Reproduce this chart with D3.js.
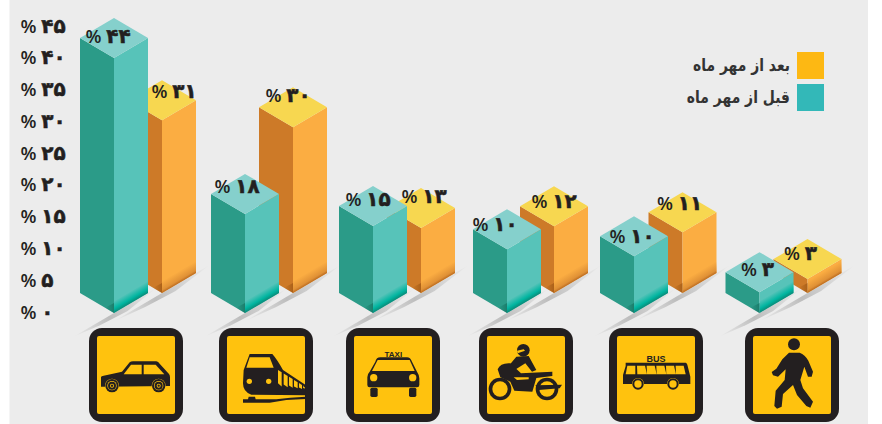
<!DOCTYPE html>
<html><head><meta charset="utf-8">
<script src="https://cdn.jsdelivr.net/npm/d3@7/dist/d3.min.js"></script>
<style>html,body{margin:0;padding:0;background:#fff}svg{display:block}</style>
</head><body><svg id="c" width="882" height="424"></svg>
<script>
// ---- data ----
const categories = ["car","train","taxi","motorcycle","bus","walking"];
const beforeLabels = [44,18,15,10,10,3];
const afterLabels  = [31,30,13,12,11,3];
// drawn bar heights (they differ a little from the printed labels)
const beforeLevels = [44,17.1,15,11,9.8,3.6];
const afterLevels  = [29.8,28.6,11.2,11.5,10.5,2.4];
const axisTicks = [0,5,10,15,20,25,30,35,40,45];
const legendLabels = ["بعد از مهر ماه","قبل از مهر ماه"];

// ---- layout ----
const svg = d3.select("#c");
const fa = n => String(n).replace(/\d/g, d => "۰۱۲۳۴۵۶۷۸۹"[+d]);
const FONT = "'DejaVu Sans'";
const hw = 34, dep = 20;
const yAxis = d3.scaleLinear().domain([0,45]).range([312,26]);
const h = d3.scaleLinear().domain([0,44]).range([0,255]);
const xBefore = d3.scaleOrdinal(categories,[114,245,373,507,634,759.5]);
const xAfter  = d3.scaleOrdinal(categories,[162,293,421,554,682.5,807.5]);
const xIcon   = d3.scaleOrdinal(categories,[89,219,346,479,609,745]);
const beforeBase = 313, afterBase = 293;
const beforeLabelDx = [-6,-8,-5,-12,-2,-2], beforeLabelDy = [-15,-21,-20,-18,-13,-16];
const afterLabelDx  = [12,-5,3,0,-3,-7],   afterLabelDy  = [-22,-25,-25,-18,-22,-19];
const tealCols = {left:"#2b9b88",right:"#57c3b9",top:"#85d0cc"};
const orangeCols = {left:"#cd7a28",right:"#fbad42",top:"#f7d750"};

svg.append("rect").attr("x",9.5).attr("y",0).attr("width",858.5).attr("height",424).attr("fill","#ececec");

const defs = svg.append("defs");
function grad(id,stops,vert){
  const g = defs.append("linearGradient").attr("id",id);
  if(vert) g.attr("x1",0).attr("y1",0).attr("x2",0).attr("y2",1);
  stops.forEach(s=>g.append("stop").attr("offset",s[0]).attr("stop-color",s[1]).attr("stop-opacity",s[2]));
}
grad("bandTeal",[[0,"#00b5a0",0],[.65,"#00b5a0",1],[1,"#0b8a78",1]],true);
grad("bandOrange",[[0,"#d98a33",0],[.75,"#d98a33",.8],[1,"#b9691f",1]],true);
grad("bandTealL",[[0,"#14705f",0],[1,"#14705f",.7]],false);
grad("bandOrangeL",[[0,"#94500f",0],[1,"#94500f",.6]],false);

// shadows
const shadows = svg.append("g");
function shadow(cx,b,reach,up){
  const sx=hw/dep;
  const ax=cx-reach, ay=b+reach/sx, bx=cx+hw+up, by=b-dep-up/sx;
  const id="s"+Math.round(cx);
  defs.append("linearGradient").attr("id",id).attr("gradientUnits","userSpaceOnUse")
    .attr("x1",ax).attr("y1",ay).attr("x2",bx).attr("y2",by)
    .call(g=>[[0,.0],[(reach*.85)/(reach+hw+up),.5],[(reach+hw*.5)/(reach+hw+up),.28],[1,0]]
      .forEach(s=>g.append("stop").attr("offset",s[0]).attr("stop-color","#8f8f8f").attr("stop-opacity",s[1])));
  shadows.append("path").attr("fill",`url(#${id})`)
    .attr("d",`M${ax},${ay} L${cx},${b} L${bx},${by} L${cx+hw*.4},${b-dep*.4+6} L${cx-reach*.35},${b+reach*.35/sx+4} Z`);
}
categories.forEach(c=>{ shadow(xAfter(c),afterBase,48,14); shadow(xBefore(c),beforeBase,40,8); });

// bars
const bars = svg.append("g");
function bar(cx,b,val,col,band,bandL){
  const H=h(val), t=b-H;
  const g=bars.append("g");
  g.append("path").attr("fill",col.left).attr("d",`M${cx-hw},${b-dep} L${cx},${b} L${cx},${t} L${cx-hw},${t-dep} Z`);
  g.append("path").attr("fill",col.right).attr("d",`M${cx+hw},${b-dep} L${cx},${b} L${cx},${t} L${cx+hw},${t-dep} Z`);
  g.append("path").attr("fill",col.top).attr("d",`M${cx},${t} L${cx+hw},${t-dep} L${cx},${t-2*dep} L${cx-hw},${t-dep} Z`);
  const bh=Math.min(12,H);
  const sk=Math.atan2(dep,hw)*180/Math.PI;
  g.append("rect").attr("x",0).attr("y",-bh).attr("width",hw).attr("height",bh).attr("fill",`url(#${band})`)
    .attr("transform",`translate(${cx},${b}) skewY(${-sk})`);
  g.append("path").attr("fill",`url(#${bandL})`)
    .attr("d",`M${cx-9},${b-5.3} L${cx},${b} L${cx},${b-10} Z`);
}
categories.forEach((c,i)=>{
  bar(xAfter(c),afterBase,afterLevels[i],orangeCols,"bandOrange","bandOrangeL");
  bar(xBefore(c),beforeBase,beforeLevels[i],tealCols,"bandTeal","bandTealL");
});

// percent label helper
function pct(sel,n){
  sel.append("tspan").attr("font-family","'Open Sans'").attr("font-weight",600).attr("font-size",18.5).text("% ");
  sel.append("tspan").attr("font-family",FONT).attr("font-weight",700).attr("font-size",20)
     .attr("stroke","#231f20").attr("stroke-width",.5).text(fa(n));
}
// axis
const axis = svg.append("g").attr("transform","translate(20.5,0)")
  .call(d3.axisRight(yAxis).tickValues(axisTicks).tickSize(0).tickFormat(""));
axis.select(".domain").remove();
axis.selectAll(".tick").each(function(d){
  const t=d3.select(this).select("text").attr("x",0).attr("dy",6).attr("text-anchor","start").attr("fill","#231f20");
  pct(t,d);
});
// value labels
const labels = svg.append("g").attr("fill","#231f20").attr("text-anchor","middle");
categories.forEach((c,i)=>{
  let t=labels.append("text").attr("x",xAfter(c)+afterLabelDx[i]).attr("y",afterBase-h(afterLevels[i])+afterLabelDy[i]);
  pct(t,afterLabels[i]);
  t=labels.append("text").attr("x",xBefore(c)+beforeLabelDx[i]).attr("y",beforeBase-h(beforeLevels[i])+beforeLabelDy[i]);
  pct(t,beforeLabels[i]);
});

// legend
const legendCols=["#fdb813","#33b8b8"];
legendLabels.forEach((l,i)=>{
  svg.append("rect").attr("x",797).attr("y",52+32*i).attr("width",27).attr("height",27).attr("fill",legendCols[i]);
  svg.append("text").attr("transform",`translate(790,${71+32*i}) scale(.82,1)`).attr("text-anchor","end")
    .attr("font-family",FONT).attr("font-weight",700).attr("font-size",17)
    .attr("fill","#333").text(l);
});

// icons: shapes are authored in a 3x grid relative to each box
const K="#231f20", Y="#ffc20e";
const iconOrigin = {car:56,train:448,taxi:827,motorcycle:56,bus:448,walking:856};
function draw(g,c){
  const p=(d,f=K)=>g.append("path").attr("d",d).attr("fill",f);
  const cc=(x,y,r,f=K)=>g.append("circle").attr("cx",x).attr("cy",y).attr("r",r).attr("fill",f);
  if(c==="car"){
    p("M92,172 Q92,168 100,167 L155,155 L178,127 Q182,124 188,124 L258,124 Q264,125 268,131 L296,162 Q299,166 299,172 L299,198 L92,200 Z");
    p("M160,163 L182,134 L214,134 L214,163 Z",Y); p("M220,134 L256,134 L282,163 L220,163 Z",Y);
    [125,265].forEach(x=>{cc(x,197,21,Y);cc(x,197,20);cc(x,197,14,Y);cc(x,197,12);cc(x,197,6,Y);cc(x,197,3.5);});
  } else if(c==="train"){
    p("M540,102 L608,102 Q622,118 640,150 L708,195 L708,226 L545,224 Q520,216 520,190 L522,150 Z");
    p("M530,143 L540,112 L600,112 L612,143 Z",Y);
    cc(539,184,8,Y);cc(597,184,8,Y);
    [[625,636],[642,654],[658,669],[673,684],[688,697],[700,706]].forEach((s,i)=>{
      const a=s[0],b=s[1],t=150+(a-625)*.62,u=150+(b-625)*.62;
      p(`M${a},${t} L${b},${u} L${b},${205} L${a},${196} Z`.replace("205",String(Math.min(208,198+(b-625)*.12))).replace("196",String(Math.min(208,190+(a-625)*.2))),Y);
    });
    p("M520,238 L535,238 L537,230 L556,230 L558,238 L620,238 Q660,232 708,230 L708,237 L650,240 L600,248 L520,248 Z");
  } else if(c==="taxi"){
    p("M915,125 Q918,112 930,112 L1010,112 Q1020,112 1025,125 L1040,155 Q1047,165 1047,175 L1047,195 Q1047,202 1040,202 L898,202 Q891,202 891,195 L891,172 Q892,160 898,155 Z");
    p("M905,153 L922,120 L1018,120 L1033,153 Z",Y);
    cc(910,173,11,Y);cc(1027,173,11,Y);
    g.append("rect").attr("x",900).attr("y",203).attr("width",22).attr("height",28).attr("rx",5).attr("fill",K);
    g.append("rect").attr("x",1016).attr("y",203).attr("width",22).attr("height",28).attr("rx",5).attr("fill",K);
    g.append("text").attr("x",969).attr("y",111).attr("text-anchor","middle").attr("font-family","'Liberation Sans Narrow','Liberation Sans'").attr("font-weight",700).attr("font-size",24).attr("fill",K).text("TAXI");
  } else if(c==="motorcycle"){
    [[119,207],[260,207]].forEach(q=>{cc(q[0],q[1],34);cc(q[0],q[1],23,Y);});
    cc(189,91,19);
    p("M170,92 L190,88 L194,92 L172,100 Z",Y);
    p("M168,110 L205,108 L228,150 L215,155 L195,130 L150,158 L135,150 Z");
    p("M112,148 Q120,128 150,130 L182,160 L276,155 L276,168 L228,174 L216,215 L162,212 L150,185 L120,172 Z");
    p("M225,196 L305,194 L298,205 L235,210 Z");
    p("M160,172 L205,172 L205,178 L170,180 Z",Y);
  } else if(c==="bus"){
    p("M498,128 L678,128 Q682,129 683,134 L692,170 L692,192 L490,192 L490,165 L498,138 Z");
    [0,1,2,3,4,5].forEach(i=>{const x=503+i*29; p(`M${x},137 L${x+24},137 L${x+30-(i<1?6:0)},163 L${x-5+(i>0?6:0)},163 Z`,Y);});
    [535,640].forEach(x=>{cc(x,192,18,Y);cc(x,192,17);cc(x,192,11,Y);});
    g.append("text").attr("x",589).attr("y",126).attr("text-anchor","middle").attr("font-family","'Liberation Sans Narrow','Liberation Sans'").attr("font-weight",700).attr("font-size",27).attr("fill",K).text("BUS");
  } else {
    cc(1003,73,18);
    p("M988,98 L1020,98 Q1036,104 1046,122 L1060,155 L1056,170 L1045,170 L1034,140 L1022,180 L1030,205 L1060,245 L1052,263 L1040,258 L1012,225 L1000,195 L970,222 L966,260 L952,266 L944,258 L948,212 L975,180 L978,148 L955,170 L940,166 L936,156 L950,146 L968,118 Z");
  }
}
categories.forEach(c=>{
  const x=xIcon(c), box=svg.append("g").attr("transform",`translate(${x},328)`);
  box.append("rect").attr("width",94).attr("height",94).attr("rx",13).attr("fill",K);
  box.append("rect").attr("x",8).attr("y",8).attr("width",78).attr("height",78).attr("rx",2).attr("fill",Y);
  const g=box.append("g").attr("transform",`scale(${1/3}) translate(${-iconOrigin[c]},-24)`);
  draw(g,c);
});
</script></body></html>
